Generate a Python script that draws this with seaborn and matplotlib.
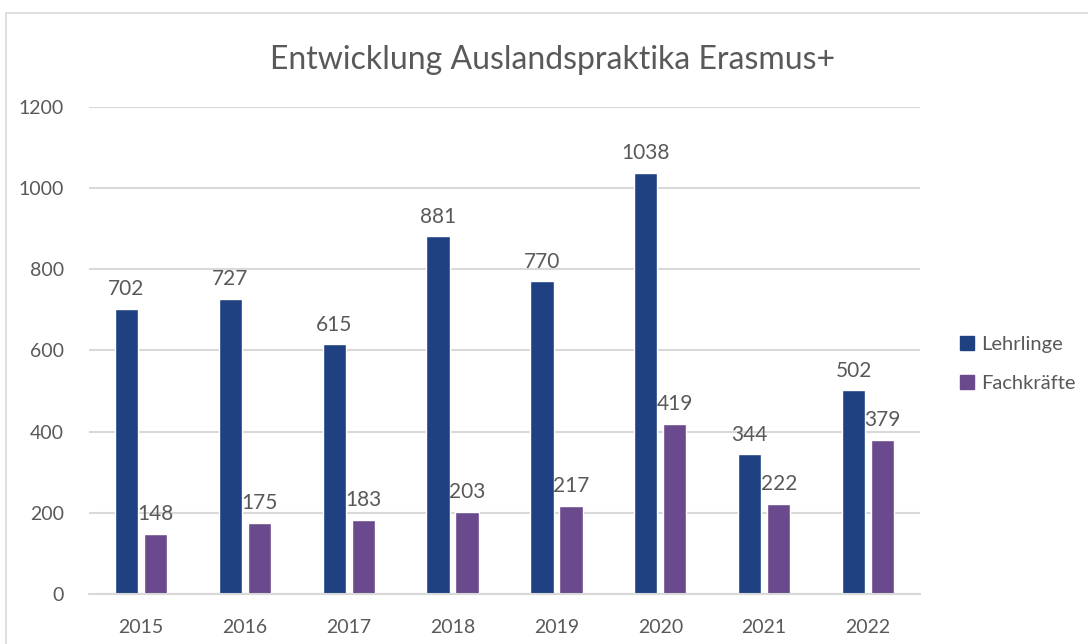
import seaborn as sns
import pandas as pd
import matplotlib.pyplot as plt
from matplotlib.lines import Line2D

years = ['2015', '2016', '2017', '2018', '2019', '2020', '2021', '2022']
lehrlinge = [702, 727, 615, 881, 770, 1038, 344, 502]
fachkraefte = [148, 175, 183, 203, 217, 419, 222, 379]
series = ['Lehrlinge', 'Fachkräfte']
colors = ['#1F4181', '#6A4A8C']

data = pd.DataFrame({
    'Jahr': years * 2,
    'Anzahl': lehrlinge + fachkraefte,
    'Gruppe': [series[0]] * len(years) + [series[1]] * len(years),
})

sns.set_style('white')
plt.rcParams['font.family'] = ['Lato', 'DejaVu Sans']
text_col = '#595959'
grid_col = '#D9D9D9'

fig = plt.figure(figsize=(10.88, 6.44), dpi=100)
ax = fig.add_axes([0.0818, 0.0776, 0.7638, 0.7563])

sns.barplot(data=data, x='Jahr', y='Anzahl', hue='Gruppe', palette=colors,
            width=0.56, gap=0.2, ax=ax, legend=False, saturation=1)

ax.set_ylim(0, 1200)
ax.set_yticks(range(0, 1201, 200))
ax.yaxis.grid(True, color=grid_col, linewidth=1.5)
ax.set_axisbelow(True)
for s in ['top', 'right', 'left']:
    ax.spines[s].set_visible(False)
ax.spines['bottom'].set_color(grid_col)
ax.spines['bottom'].set_linewidth(1.5)
ax.tick_params(axis='both', length=0, labelsize=14, labelcolor=text_col)
ax.tick_params(axis='x', pad=18)
ax.tick_params(axis='y', pad=18)
ax.set_xlabel('')
ax.set_ylabel('')

for c in ax.containers:
    ax.bar_label(c, padding=7, fontsize=15, color=text_col)

fig.suptitle('Entwicklung Auslandspraktika Erasmus+', x=0.508, y=0.93,
             fontsize=23, color=text_col)

handles = [plt.Rectangle((0, 0), 1, 1, color=c) for c in colors]
fig.legend(handles, series, loc='center left', bbox_to_anchor=(0.866, 0.435),
           frameon=False, fontsize=14.5, labelcolor=text_col,
           handlelength=0.7, handleheight=0.7, handletextpad=0.35,
           labelspacing=1.1)

# chart border
fig.add_artist(Line2D([0.0055, 1.0], [0.98, 0.98], color=grid_col, linewidth=1.2))
fig.add_artist(Line2D([0.0055, 0.0055], [0.0, 0.98], color=grid_col, linewidth=1.2))

fig.savefig('out.png', dpi=100)
